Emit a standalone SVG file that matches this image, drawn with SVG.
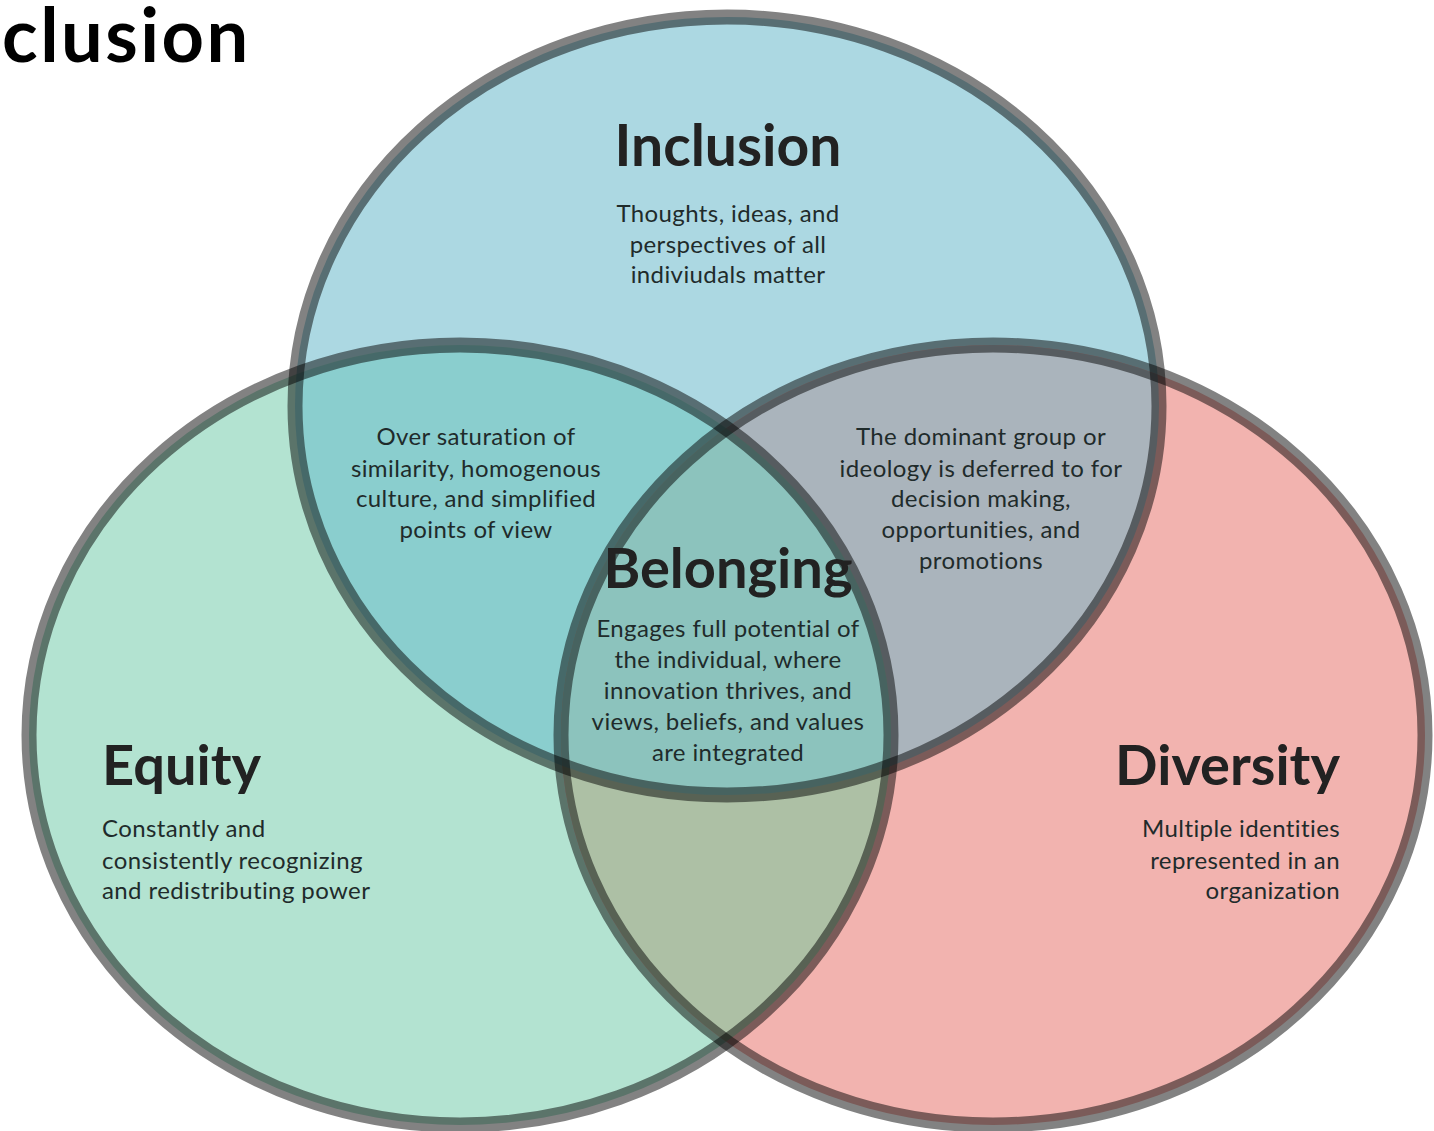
<svg xmlns="http://www.w3.org/2000/svg" width="1434" height="1131" viewBox="0 0 1434 1131">
<style>
.h{font-family:Lato,"Open Sans",sans-serif;font-weight:700;fill:#222222;}
.b{font-family:Lato,"Open Sans",sans-serif;font-size:24px;letter-spacing:0.4px;fill:#1f2b2b;}
.c{text-anchor:middle;}
.r{text-anchor:end;}
.ring{fill:none;stroke:#000;stroke-opacity:0.49;stroke-width:15;}
</style>
<defs>
<ellipse id="eI" cx="727" cy="406" rx="432" ry="389"/>
<ellipse id="eE" cx="460" cy="735" rx="431" ry="390"/>
<ellipse id="eD" cx="993" cy="735" rx="432" ry="390"/>
<clipPath id="cI"><use href="#eI"/></clipPath>
<clipPath id="cE"><use href="#eE"/></clipPath>
<clipPath id="cD"><use href="#eD"/></clipPath>
</defs>
<rect width="1434" height="1131" fill="#ffffff"/>
<text x="2" y="62" font-family="Lato,'Open Sans',sans-serif" font-weight="700" font-size="74" letter-spacing="2.5" fill="#000">clusion</text>
<g id="fills">
<use href="#eI" fill="#acd8e2"/>
<use href="#eE" fill="#b3e3d1"/>
<use href="#eD" fill="#f2b3af"/>
<g clip-path="url(#cI)"><use href="#eE" fill="#8acece"/></g>
<g clip-path="url(#cI)"><use href="#eD" fill="#aab4bc"/></g>
<g clip-path="url(#cE)"><use href="#eD" fill="#adc0a5"/></g>
<g clip-path="url(#cI)"><g clip-path="url(#cE)"><use href="#eD" fill="#8cc3bd"/></g></g>
</g>
<g id="connectors">
<use href="#eI" class="ring"/>
<use href="#eE" class="ring"/>
<use href="#eD" class="ring"/>
</g>
<g id="inclusion">
<text class="h c" x="728" y="166" font-size="57">Inclusion</text>
<text class="b c" x="728" y="222">Thoughts, ideas, and</text>
<text class="b c" x="728" y="253">perspectives of all</text>
<text class="b c" x="728" y="283">indiviudals matter</text>
</g>
<g id="inclusion-equity">
<text class="b c" x="476" y="445">Over saturation of</text>
<text class="b c" x="476" y="477">similarity, homogenous</text>
<text class="b c" x="476" y="507">culture, and simplified</text>
<text class="b c" x="476" y="538">points of view</text>
</g>
<g id="inclusion-diversity">
<text class="b c" x="981" y="445">The dominant group or</text>
<text class="b c" x="981" y="477">ideology is deferred to for</text>
<text class="b c" x="981" y="507">decision making,</text>
<text class="b c" x="981" y="538">opportunities, and</text>
<text class="b c" x="981" y="569">promotions</text>
</g>
<g id="belonging">
<text class="h c" x="728" y="588" font-size="56">Belonging</text>
<text class="b c" x="728" y="637">Engages full potential of</text>
<text class="b c" x="728" y="668">the individual, where</text>
<text class="b c" x="728" y="699">innovation thrives, and</text>
<text class="b c" x="728" y="730">views, beliefs, and values</text>
<text class="b c" x="728" y="761">are integrated</text>
</g>
<g id="equity">
<text class="h" x="102" y="785" font-size="56">Equity</text>
<text class="b" x="102" y="837">Constantly and</text>
<text class="b" x="102" y="869">consistently recognizing</text>
<text class="b" x="102" y="899">and redistributing power</text>
</g>
<g id="diversity">
<text class="h r" x="1340" y="785" font-size="56">Diversity</text>
<text class="b r" x="1340" y="837">Multiple identities</text>
<text class="b r" x="1340" y="869">represented in an</text>
<text class="b r" x="1340" y="899">organization</text>
</g>
</svg>
